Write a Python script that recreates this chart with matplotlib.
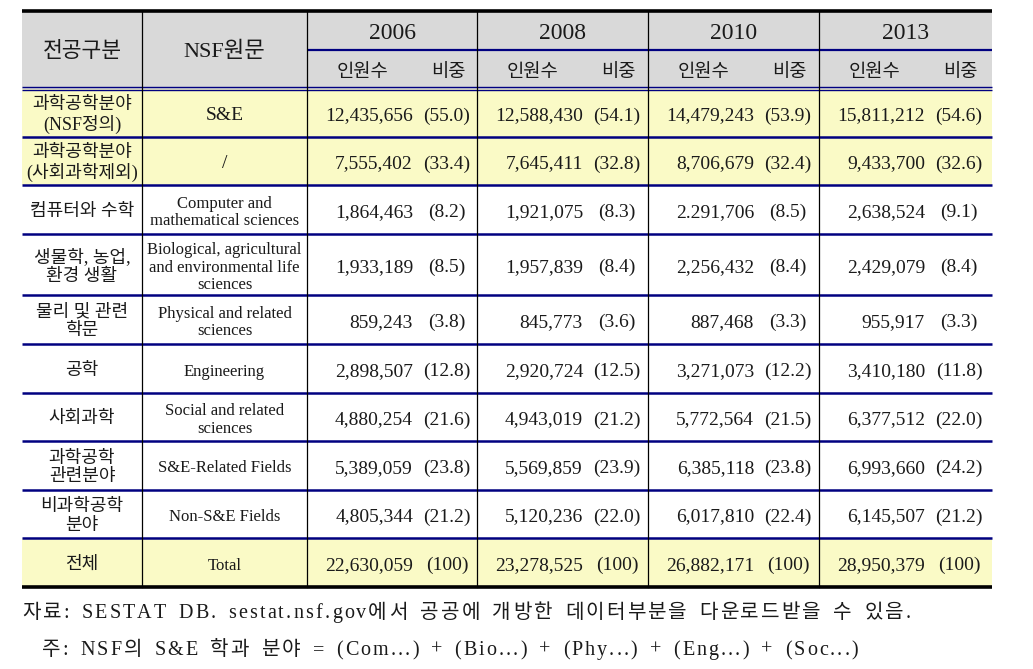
import matplotlib
matplotlib.use("Agg")
import matplotlib.pyplot as plt
from matplotlib.patches import Rectangle

plt.rcParams['font.family'] = ['Liberation Serif', 'Noto Sans CJK KR', 'DejaVu Sans']

# ---------------- data ----------------
years = ['2006', '2008', '2010', '2013']
sub_headers = ['인원수', '비중']
head_ko = '전공구분'
head_nsf = 'NSF원문'
categories_ko = ['과학공학분야\n(NSF정의)', '과학공학분야\n(사회과학제외)', '컴퓨터와 수학',
                 '생물학, 농업,\n환경 생활', '물리 및 관련\n학문', '공학', '사회과학',
                 '과학공학\n관련분야', '비과학공학\n분야', '전체']
categories_nsf = ['S&E', '/', 'Computer and\nmathematical sciences',
                  'Biological, agricultural\nand environmental life\nsciences',
                  'Physical and related\nsciences', 'Engineering',
                  'Social and related\nsciences', 'S&E-Related Fields',
                  'Non-S&E Fields', 'Total']
counts_2006 = ['12,435,656', '7,555,402', '1,864,463', '1,933,189', '859,243',
               '2,898,507', '4,880,254', '5,389,059', '4,805,344', '22,630,059']
share_2006 = ['55.0', '33.4', '8.2', '8.5', '3.8', '12.8', '21.6', '23.8', '21.2', '100']
counts_2008 = ['12,588,430', '7,645,411', '1,921,075', '1,957,839', '845,773',
               '2,920,724', '4,943,019', '5,569,859', '5,120,236', '23,278,525']
share_2008 = ['54.1', '32.8', '8.3', '8.4', '3.6', '12.5', '21.2', '23.9', '22.0', '100']
counts_2010 = ['14,479,243', '8,706,679', '2.291,706', '2,256,432', '887,468',
               '3,271,073', '5,772,564', '6,385,118', '6,017,810', '26,882,171']
share_2010 = ['53.9', '32.4', '8.5', '8.4', '3.3', '12.2', '21.5', '23.8', '22.4', '100']
counts_2013 = ['15,811,212', '9,433,700', '2,638,524', '2,429,079', '955,917',
               '3,410,180', '6,377,512', '6,993,660', '6,145,507', '28,950,379']
share_2013 = ['54.6', '32.6', '9.1', '8.4', '3.3', '11.8', '22.0', '24.2', '21.2', '100']
highlight_rows = [0, 1, 9]
footnote1 = '자료: SESTAT DB. sestat.nsf.gov에서 공공에 개방한 데이터부분을 다운로드받을 수 있음.'
footnote2 = '주: NSF의 S&E 학과 분야 = (Com...) + (Bio...) + (Phy...) + (Eng...) + (Soc...)'

counts = [counts_2006, counts_2008, counts_2010, counts_2013]
shares = [share_2006, share_2008, share_2010, share_2013]

# ---------------- layout (pixels) ----------------
W, H = 1033, 669
fig = plt.figure(figsize=(W / 100, H / 100), dpi=100)
ax = fig.add_axes([0, 0, 1, 1])
ax.set_xlim(0, W)
ax.set_ylim(H, 0)
ax.axis('off')

col_x = [22, 142, 307, 477, 648, 819, 992]
head_top, head_mid, head_bot = 11, 50, 89
row_y = [89, 137, 185, 234, 295, 344, 393, 441, 490, 538, 587]
DY = 3

GRAY = '#d9d9d9'
YEL = '#fafac6'
NAVY = '#000080'
TXT = '#1a1a1a'

# header background
ax.add_patch(Rectangle((col_x[0], head_top), col_x[-1] - col_x[0], head_bot - head_top,
                       facecolor=GRAY, edgecolor='none'))
for r in highlight_rows:
    ax.add_patch(Rectangle((col_x[0], row_y[r]), col_x[-1] - col_x[0], row_y[r + 1] - row_y[r],
                           facecolor=YEL, edgecolor='none'))

# horizontal lines
ax.plot([col_x[0], col_x[-1]], [head_top, head_top], color='black', lw=2.6, solid_capstyle='butt')
ax.plot([col_x[2], col_x[-1]], [head_mid, head_mid], color=NAVY, lw=1.6, solid_capstyle='butt')
ax.plot([col_x[0], col_x[-1]], [head_bot - 2, head_bot - 2], color=NAVY, lw=1.0, solid_capstyle='butt')
ax.plot([col_x[0], col_x[-1]], [head_bot + 1, head_bot + 1], color=NAVY, lw=1.0, solid_capstyle='butt')
for y in row_y[1:-1]:
    ax.plot([col_x[0], col_x[-1]], [y, y], color=NAVY, lw=1.8, solid_capstyle='butt')
ax.plot([col_x[0], col_x[-1]], [row_y[-1], row_y[-1]], color='black', lw=2.6, solid_capstyle='butt')

# vertical lines
for x in col_x[1:-1]:
    ax.plot([x, x], [head_top, row_y[-1]], color='black', lw=0.9)

# header text
ax.text((col_x[0] + col_x[1]) / 2, (head_top + head_bot) / 2 + 2, head_ko, ha='center', va='center',
        fontsize=15.5, color=TXT)
ax.text((col_x[1] + col_x[2]) / 2, (head_top + head_bot) / 2 + 2, head_nsf, ha='center', va='center',
        fontsize=16, color=TXT)
for j, yr in enumerate(years):
    x0, x1 = col_x[2 + j], col_x[3 + j]
    ax.text((x0 + x1) / 2, (head_top + head_mid) / 2 + 3, yr, ha='center', va='center',
            fontsize=17, color=TXT)
    ax.text(x0 + 56, (head_mid + head_bot) / 2 + 3, sub_headers[0], ha='center', va='center',
            fontsize=13.5, color=TXT)
    ax.text(x0 + 141, (head_mid + head_bot) / 2 + 3, sub_headers[1], ha='center', va='center',
            fontsize=13.5, color=TXT)

# body
for r in range(len(categories_ko)):
    yc = (row_y[r] + row_y[r + 1]) / 2 + DY
    ax.text((col_x[0] + col_x[1]) / 2, yc - 1, categories_ko[r], ha='center', va='center',
            fontsize=13, color=TXT, linespacing=1.15)
    nsf_size = 14 if r in (0, 1) else 12
    ax.text((col_x[1] + col_x[2]) / 2, yc, categories_nsf[r], ha='center', va='center',
            fontsize=nsf_size, color=TXT, linespacing=1.15)
    for j in range(4):
        x0 = col_x[2 + j]
        ax.text(x0 + 106, yc, counts[j][r], ha='right', va='center', fontsize=14, color=TXT)
        ax.text(x0 + 140, yc, '(' + shares[j][r] + ')', ha='center', va='center',
                fontsize=14, color=TXT)

# footnotes: letter-spaced to the width they occupy in the source
fig.canvas.draw()
renderer = fig.canvas.get_renderer()


def spread_text(s, x_start, x_end, y, size, space_weight=2.5):
    chars = list(s)
    arts = []
    widths = []
    for c in chars:
        if c == ' ':
            arts.append(None)
            widths.append(size * 100 / 72 * 0.25)
        else:
            a = ax.text(0, y, c, ha='left', va='baseline', fontsize=size, color=TXT)
            arts.append(a)
            widths.append(a.get_window_extent(renderer).width)
    weights = [space_weight if c == ' ' else 1.0 for c in chars[:-1]]
    extra = (x_end - x_start - sum(widths)) / sum(weights)
    x = x_start
    for i, (a, w) in enumerate(zip(arts, widths)):
        if a is not None:
            a.set_x(x)
        if i < len(weights):
            x += w + extra * weights[i]


spread_text(footnote1, 22, 911, 618, 14.5)
spread_text(footnote2, 42, 858, 655, 14.5)

fig.savefig('out.png', dpi=100, facecolor='white')
